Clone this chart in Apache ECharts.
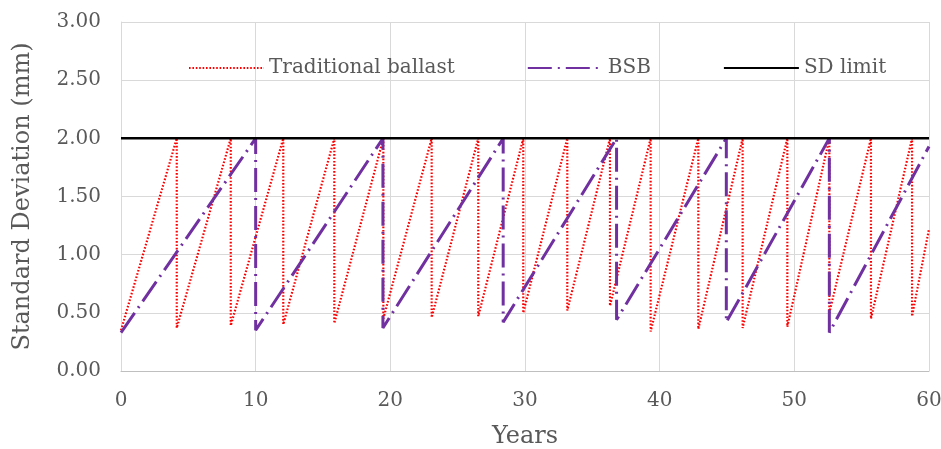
<!DOCTYPE html>
<html>
<head>
<meta charset="utf-8">
<script src="https://cdn.jsdelivr.net/npm/echarts@6/dist/echarts.min.js"></script>
<style>
html,body{margin:0;padding:0;background:#fff;}
#chart{width:941px;height:449px;}
</style>
</head>
<body>
<div id="chart"></div>
<script>
// Traditional ballast: SD (mm) vs years (vertical drops = tamping)
var tradYears = [0, 4.14, 4.14, 8.15, 8.15, 12.05, 12.05, 15.84, 15.84, 19.48, 19.48, 23.07, 23.07, 26.53, 26.53, 29.87, 29.87, 33.14, 33.14, 36.31, 36.31, 39.33, 39.33, 42.87, 42.87, 46.16, 46.16, 49.48, 49.48, 52.6, 52.6, 55.69, 55.69, 58.74, 58.74, 60];
var tradSD    = [0.35, 2.0, 0.37, 2.0, 0.39, 2.0, 0.40, 2.0, 0.41, 2.0, 0.45, 2.0, 0.46, 2.0, 0.47, 2.0, 0.50, 2.0, 0.52, 2.0, 0.56, 2.0, 0.34, 2.0, 0.36, 2.0, 0.37, 2.0, 0.38, 2.0, 0.50, 2.0, 0.45, 2.0, 0.47, 1.22];
// BSB
var bsbYears = [0, 10.0, 10.0, 19.45, 19.45, 28.38, 28.38, 36.8, 36.8, 44.95, 44.95, 52.6, 52.6, 60];
var bsbSD    = [0.33, 2.0, 0.35, 2.0, 0.37, 2.0, 0.42, 2.0, 0.44, 2.0, 0.42, 2.0, 0.33, 1.93];
// SD limit
var limitYears = [0, 60];
var limitSD    = [2.0, 2.0];

var seriesNames = ['Traditional ballast', 'BSB', 'SD limit'];

function pairs(xs, ys) { return xs.map(function (x, i) { return [x, ys[i]]; }); }

var FONT = 'DejaVu Serif';
var TXT = '#595959';

var chart = echarts.init(document.getElementById('chart'), null, {renderer: 'canvas'});
chart.setOption({
  animation: false,
  backgroundColor: '#ffffff',
  grid: {left: 121, right: 12, top: 22, bottom: 78, containLabel: false, outerBoundsMode: 'none'},
  legend: {
    left: 183, top: 53,
    itemWidth: 75, itemHeight: 14, itemGap: 72,
    itemStyle: {opacity: 0},
    textStyle: {fontFamily: FONT, fontSize: 20, color: TXT},
    data: seriesNames
  },
  xAxis: {
    type: 'value', min: 0, max: 60, interval: 10,
    name: 'Years', nameLocation: 'middle', nameGap: 54,
    nameTextStyle: {fontFamily: FONT, fontSize: 24, color: TXT},
    axisLine: {show: true, lineStyle: {color: '#bfbfbf', width: 1}},
    axisTick: {show: false},
    axisLabel: {fontFamily: FONT, fontSize: 20, color: TXT, margin: 20},
    splitLine: {show: true, lineStyle: {color: '#d9d9d9', width: 1}}
  },
  yAxis: {
    type: 'value', min: 0, max: 3, interval: 0.5,
    name: 'Standard Deviation (mm)', nameLocation: 'middle', nameGap: 86,
    nameTextStyle: {fontFamily: FONT, fontSize: 24, color: TXT},
    axisLine: {show: true, lineStyle: {color: '#d9d9d9', width: 1}},
    axisTick: {show: false},
    axisLabel: {fontFamily: FONT, fontSize: 20, color: TXT, margin: 20,
      formatter: function (v) { return v.toFixed(2); }},
    splitLine: {show: true, lineStyle: {color: '#d9d9d9', width: 1}}
  },
  series: [
    {
      name: seriesNames[0], type: 'line', symbol: 'none',
      data: pairs(tradYears, tradSD),
      lineStyle: {color: '#ff0000', width: 2.2, type: [1.6, 1.8]},
      itemStyle: {color: '#ff0000'}
    },
    {
      name: seriesNames[1], type: 'line', symbol: 'none',
      data: pairs(bsbYears, bsbSD),
      lineStyle: {color: '#7030a0', width: 3, type: [24, 6, 2, 6]},
      itemStyle: {color: '#7030a0'}
    },
    {
      name: seriesNames[2], type: 'line', symbol: 'none',
      data: pairs(limitYears, limitSD),
      lineStyle: {color: '#000000', width: 2.5},
      itemStyle: {color: '#000000'}
    }
  ]
});
</script>
</body>
</html>
